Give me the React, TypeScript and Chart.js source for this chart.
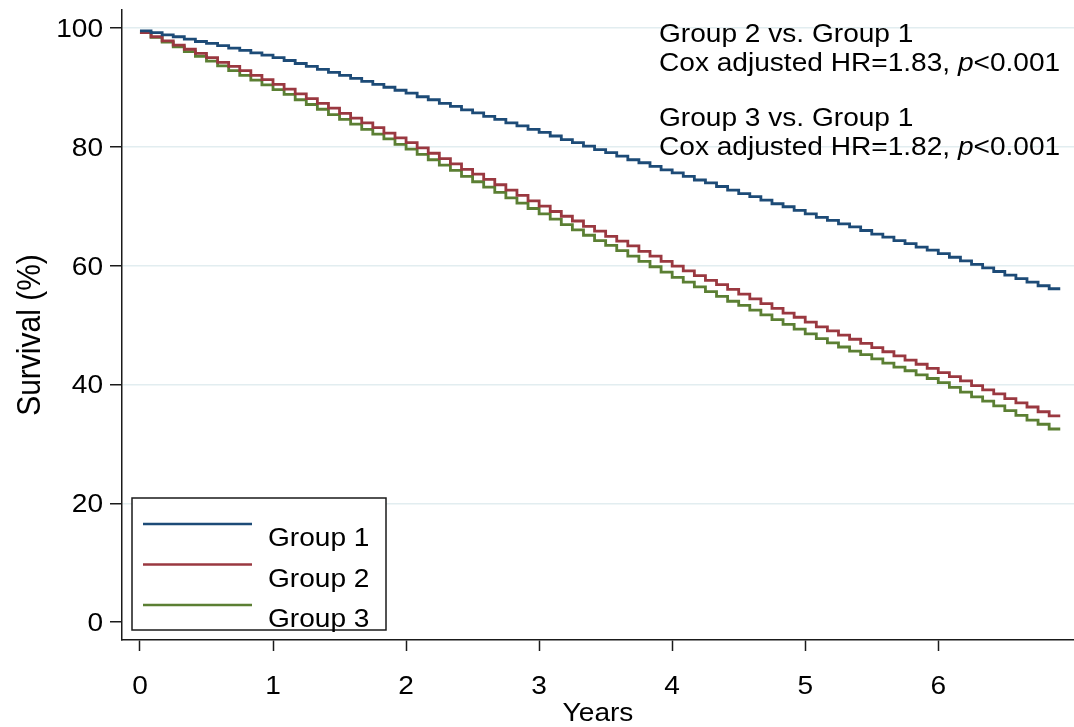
import { useEffect, useRef } from 'react';
import { Chart, registerables } from 'chart.js';

Chart.register(...registerables);

// Follow-up time in months (x axis is drawn in years)
const months = [
  0, 1, 2, 3, 4, 5, 6, 7, 8, 9, 10, 11, 12, 13, 14, 15, 16, 17, 18, 19, 20,
  21, 22, 23, 24, 25, 26, 27, 28, 29, 30, 31, 32, 33, 34, 35, 36, 37, 38, 39,
  40, 41, 42, 43, 44, 45, 46, 47, 48, 49, 50, 51, 52, 53, 54, 55, 56, 57, 58,
  59, 60, 61, 62, 63, 64, 65, 66, 67, 68, 69, 70, 71, 72, 73, 74, 75, 76, 77,
  78, 79, 80, 81, 82, 83,
];

// Kaplan-Meier survival (%) per month
const group1 = [
  99.5, 99.2, 98.8, 98.5, 98.1, 97.7, 97.4, 97.0, 96.6, 96.2, 95.8, 95.4, 95.0,
  94.5, 94.0, 93.5, 93.0, 92.5, 92.0, 91.5, 91.0, 90.5, 90.0, 89.5, 89.0,
  88.4, 87.9, 87.3, 86.8, 86.2, 85.7, 85.1, 84.6, 84.0, 83.5, 82.9, 82.4,
  81.8, 81.2, 80.7, 80.1, 79.5, 79.0, 78.4, 77.8, 77.3, 76.7, 76.1, 75.6,
  75.0, 74.4, 73.9, 73.3, 72.7, 72.1, 71.6, 71.0, 70.4, 69.9, 69.3, 68.7,
  68.1, 67.6, 67.0, 66.5, 65.9, 65.3, 64.8, 64.2, 63.7, 63.1, 62.6, 62.0,
  61.4, 60.8, 60.2, 59.6, 59.0, 58.4, 57.8, 57.2, 56.6, 56.1, 56.1,
];
const group2 = [
  99.2, 98.5, 97.8, 97.1, 96.4, 95.7, 95.0, 94.2, 93.5, 92.8, 92.0, 91.3, 90.5,
  89.7, 88.9, 88.1, 87.3, 86.5, 85.6, 84.8, 84.0, 83.2, 82.3, 81.5, 80.7,
  79.8, 78.9, 78.0, 77.1, 76.2, 75.4, 74.5, 73.6, 72.7, 71.8, 70.9, 70.0,
  69.1, 68.3, 67.5, 66.6, 65.8, 64.9, 64.1, 63.3, 62.4, 61.6, 60.7, 59.9,
  59.1, 58.3, 57.5, 56.8, 56.0, 55.2, 54.4, 53.6, 52.8, 52.0, 51.3, 50.5,
  49.7, 49.0, 48.3, 47.6, 46.9, 46.2, 45.5, 44.8, 44.1, 43.4, 42.7, 42.0,
  41.3, 40.6, 39.8, 39.1, 38.4, 37.6, 36.9, 36.2, 35.4, 34.7, 34.7,
];
const group3 = [
  99.2, 98.4, 97.6, 96.8, 96.0, 95.2, 94.4, 93.6, 92.8, 92.0, 91.2, 90.4, 89.6,
  88.8, 87.9, 87.1, 86.3, 85.4, 84.6, 83.8, 82.9, 82.1, 81.3, 80.4, 79.6,
  78.7, 77.8, 76.9, 76.0, 75.0, 74.1, 73.2, 72.3, 71.4, 70.5, 69.6, 68.7,
  67.8, 66.9, 66.0, 65.1, 64.2, 63.4, 62.5, 61.6, 60.7, 59.8, 58.9, 58.0,
  57.2, 56.4, 55.6, 54.8, 54.0, 53.3, 52.5, 51.7, 50.9, 50.1, 49.3, 48.5,
  47.7, 47.0, 46.3, 45.6, 45.0, 44.3, 43.6, 42.9, 42.3, 41.6, 41.0, 40.3,
  39.5, 38.7, 37.9, 37.2, 36.4, 35.6, 34.8, 34.0, 33.3, 32.5, 32.5,
];

const seriesNames = ['Group 1', 'Group 2', 'Group 3'];
const seriesValues = [group1, group2, group3];
const seriesColors = ['#1d4b77', '#9a3840', '#5b7f33'];

const xTicks = [0, 1, 2, 3, 4, 5, 6];
const yTicks = [0, 20, 40, 60, 80, 100];
const xTitle = 'Years';
const yTitle = 'Survival (%)';

// Hazard-ratio notes: comparison, HR, p-value
const compared = ['Group 2 vs. Group 1', 'Group 3 vs. Group 1'];
const hazardRatios = ['1.83', '1.82'];
const pValues = ['<0.001', '<0.001'];

const FONT = '"Liberation Sans", Arial, Helvetica, sans-serif';
const FS = 26; // text size
const SX = 1.08; // horizontal glyph stretch

function wideText(
  ctx: CanvasRenderingContext2D,
  text: string,
  x: number,
  y: number,
  align: 'left' | 'right' | 'center',
  size = FS,
  italic = false
) {
  ctx.save();
  ctx.font = `${italic ? 'italic ' : ''}${size}px ${FONT}`;
  ctx.textBaseline = 'alphabetic';
  ctx.textAlign = align;
  ctx.translate(x, y);
  ctx.scale(SX, 1);
  ctx.fillText(text, 0, 0);
  const w = ctx.measureText(text).width * SX;
  ctx.restore();
  return w;
}

const decorations = {
  id: 'decorations',
  afterDraw(chart: any) {
    const ctx: CanvasRenderingContext2D = chart.ctx;
    const xs = chart.scales.x;
    const ys = chart.scales.y;
    ctx.save();
    ctx.fillStyle = '#000';

    // tick labels
    yTicks.forEach((v) => {
      wideText(ctx, String(v), 103, ys.getPixelForValue(v) + 9, 'right');
    });
    xTicks.forEach((v) => {
      wideText(ctx, String(v), xs.getPixelForValue(v), 694, 'center');
    });

    // axis titles
    wideText(ctx, xTitle, (chart.chartArea.left + chart.chartArea.right) / 2, 721, 'center');
    ctx.save();
    ctx.translate(40, (chart.chartArea.top + chart.chartArea.bottom) / 2 + 10);
    ctx.rotate(-Math.PI / 2);
    ctx.font = `30px ${FONT}`;
    ctx.textAlign = 'center';
    ctx.textBaseline = 'alphabetic';
    ctx.scale(1, SX);
    ctx.fillText(yTitle, 0, 0);
    ctx.restore();

    // legend
    ctx.fillStyle = '#fff';
    ctx.fillRect(132, 498, 254, 132);
    ctx.strokeStyle = '#1a1a1a';
    ctx.lineWidth = 1.5;
    ctx.strokeRect(132, 498, 254, 132);
    seriesNames.forEach((name, i) => {
      const ly = 524 + i * 40.5;
      ctx.strokeStyle = seriesColors[i];
      ctx.lineWidth = 2.5;
      ctx.beginPath();
      ctx.moveTo(143, ly);
      ctx.lineTo(252, ly);
      ctx.stroke();
      ctx.fillStyle = '#000';
      wideText(ctx, name, 268, ly + 22, 'left');
    });

    // hazard-ratio notes
    compared.forEach((label, i) => {
      const top = 42 + i * 84;
      wideText(ctx, label, 659, top, 'left');
      let x = 659;
      x += wideText(ctx, `Cox adjusted HR=${hazardRatios[i]}, `, x, top + 29, 'left');
      x += wideText(ctx, 'p', x, top + 29, 'left', FS, true);
      wideText(ctx, pValues[i], x, top + 29, 'left');
    });
    ctx.restore();
  },
};

export default function App() {
  const canvasRef = useRef<HTMLCanvasElement | null>(null);

  useEffect(() => {
    if (!canvasRef.current) return;
    const chart = new Chart(canvasRef.current, {
      type: 'line',
      data: {
        datasets: seriesValues.map((vals, i) => ({
          label: seriesNames[i],
          data: months.map((m, j) => ({ x: m / 12, y: vals[j] })),
          borderColor: seriesColors[i],
          backgroundColor: seriesColors[i],
          borderWidth: 2.8,
          stepped: 'before' as const,
          pointRadius: 0,
          fill: false,
        })),
      },
      options: {
        animation: false,
        responsive: false,
        maintainAspectRatio: false,
        devicePixelRatio: 1,
        layout: { padding: { top: 10, left: 0, right: 0, bottom: 0 } },
        plugins: { legend: { display: false }, tooltip: { enabled: false } },
        scales: {
          x: {
            type: 'linear',
            min: -0.135,
            max: 7.02,
            afterBuildTicks: (s: any) => {
              s.ticks = xTicks.map((v) => ({ value: v }));
            },
            afterFit: (s: any) => {
              s.height = 87;
            },
            ticks: { display: false },
            grid: {
              drawOnChartArea: false,
              drawTicks: true,
              tickLength: 11,
              tickColor: '#1a1a1a',
              tickWidth: 1.5,
            },
            border: { display: true, color: '#1a1a1a', width: 1.5 },
          },
          y: {
            type: 'linear',
            min: -3,
            max: 103,
            afterBuildTicks: (s: any) => {
              s.ticks = yTicks.map((v) => ({ value: v }));
            },
            afterFit: (s: any) => {
              s.width = 122;
            },
            ticks: { display: false },
            grid: {
              drawOnChartArea: true,
              color: (c: any) => (c.tick && c.tick.value === 0 ? 'rgba(0,0,0,0)' : '#e2edf0'),
              lineWidth: 1.5,
              drawTicks: true,
              tickLength: 12,
              tickColor: '#1a1a1a',
              tickWidth: 1.5,
            },
            border: { display: true, color: '#1a1a1a', width: 1.5 },
          },
        },
      },
      plugins: [decorations],
    });
    return () => chart.destroy();
  }, []);

  return (
    <div
      style={{
        position: 'fixed',
        left: 0,
        top: 0,
        width: 1074,
        height: 727,
        background: '#fff',
      }}
    >
      <canvas ref={canvasRef} width={1074} height={727} />
    </div>
  );
}
